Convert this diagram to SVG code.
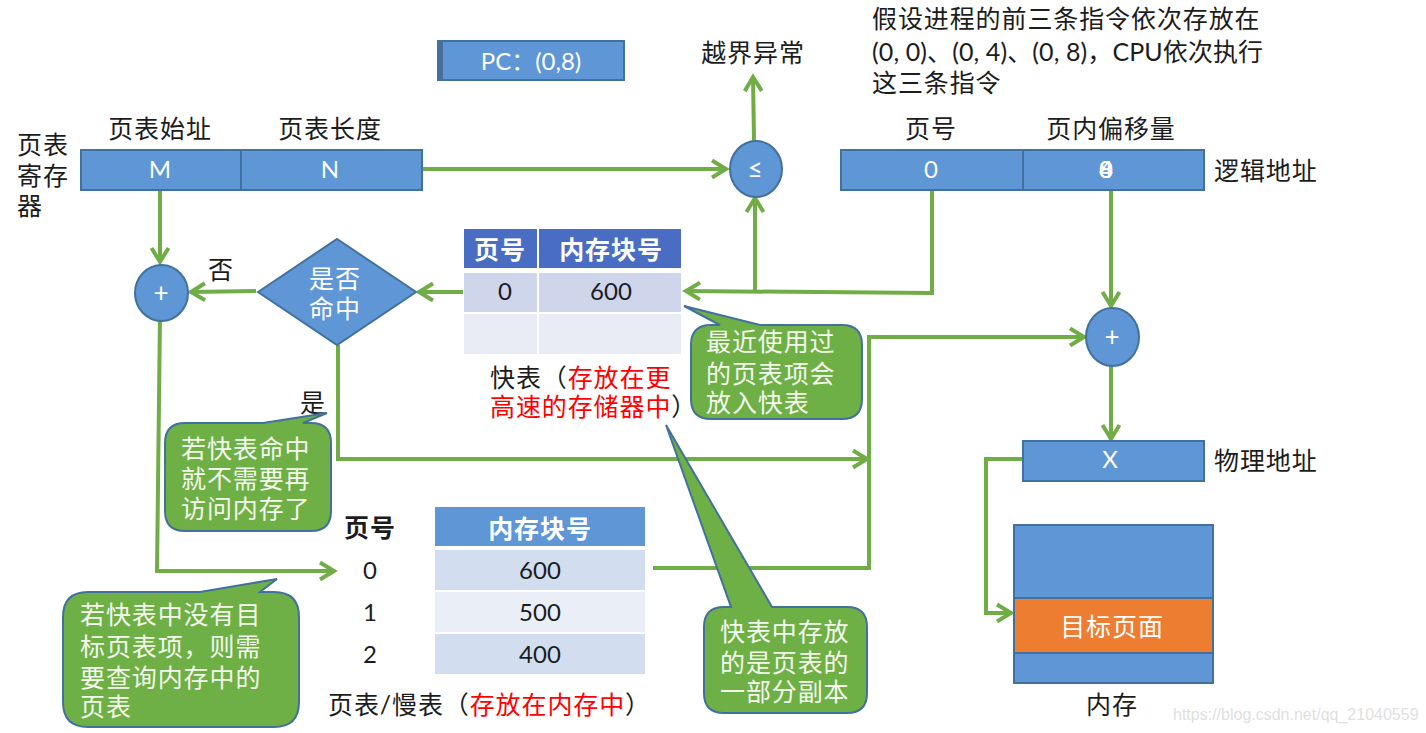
<svg xmlns="http://www.w3.org/2000/svg" width="1426" height="733" viewBox="0 0 1426 733">
<style>
text{font-family:"Lato","Noto Sans CJK SC",sans-serif;font-size:25px;fill:#1c1c1c;letter-spacing:.9px}
.m{text-anchor:middle}
.w{fill:#fff}
.n{font-size:24px;letter-spacing:0}
.b{font-weight:700}
.r{fill:#f00}
.bx{fill:#5f96d6;stroke:#41719c;stroke-width:2}
.dv{stroke:#41719c;stroke-width:2;fill:none}
.cb{fill:#6eb045;stroke:#41719c;stroke-width:2}
.ct{fill:#f4f9ee}
.op{font-size:26px;letter-spacing:0}
.c{fill:none;stroke:#70ad47;stroke-width:4}
.a{marker-end:url(#ah)}
</style>
<defs>
<marker id="ah" markerUnits="userSpaceOnUse" markerWidth="24" markerHeight="24" refX="18" refY="12" orient="auto">
<path d="M3 3.500L17 12L3 20.500" fill="none" stroke="#70ad47" stroke-width="4"/>
</marker>
</defs>
<rect width="1426" height="733" fill="#fff"/>
<g id="connectors">
<path class="c a" d="M422 169H727"/>
<path class="c a" d="M754 141L753 76"/>
<path class="c a" d="M160 190V263"/>
<path class="c a" d="M256 291L190 292"/>
<path class="c a" d="M463 292H418"/>
<path class="c a" d="M932 190V293L685 291"/>
<path class="c a" d="M755 291V197"/>
<path class="c a" d="M1111 190V307"/>
<path class="c a" d="M1111 365V440"/>
<path class="c a" d="M338 345V459H868"/>
<path class="c a" d="M653 568H869V337H1085"/>
<path class="c a" d="M1022 459H986V613H1012"/>
<path class="c a" d="M160 315L157 571H335"/>
</g>
<g id="register">
<rect class="bx" x="81" y="150" width="341" height="40"/>
<path class="dv" d="M241 150V190"/>
<text class="m w n" x="160" y="178">M</text>
<text class="m w n" x="330" y="178">N</text>
</g>
<g id="register-labels">
<text class="m" x="160" y="138">页表始址</text>
<text class="m" x="330" y="138">页表长度</text>
<text x="17" y="154">页表</text>
<text x="17" y="185">寄存</text>
<text x="17" y="215">器</text>
</g>
<g id="pc">
<rect class="bx" x="438" y="41" width="186" height="39"/>
<rect x="438" y="41" width="5" height="39" fill="#41719c"/>
<text class="m w n" x="531" y="70">PC：(0,8)</text>
</g>
<g id="overflow"><text class="m" x="753" y="62">越界异常</text></g>
<g id="note-top">
<text x="872" y="28">假设进程的前三条指令依次存放在</text>
<text x="872" y="61" style="letter-spacing:.1px">(0, 0)、(0, 4)、(0, 8)，CPU依次执行</text>
<text x="872" y="92">这三条指令</text>
</g>
<g id="compare">
<ellipse class="bx" cx="756" cy="169" rx="26" ry="28"/>
<text class="m w op" x="755" y="178">≤</text>
</g>
<g id="logical">
<rect class="bx" x="841" y="150" width="363" height="40"/>
<path class="dv" d="M1023 150V190"/>
<text class="m w n" x="931" y="178">0</text>
<text class="m w n" x="1106" y="178">0</text>
<text class="m w n" x="1106" y="178">4</text>
<text class="m w n" x="1106" y="178">8</text>
<text class="m" x="931" y="138">页号</text>
<text class="m" x="1111" y="138">页内偏移量</text>
<text x="1214" y="180">逻辑地址</text>
</g>
<g id="adder-left">
<ellipse class="bx" cx="161.500" cy="293" rx="26.500" ry="28"/>
<text class="m w op" x="161" y="302">+</text>
</g>
<g id="hit">
<path class="bx" d="M258 292L337 239L416 292L337 345Z"/>
<text class="m w" x="335" y="288">是否</text>
<text class="m w" x="335" y="318">命中</text>
</g>
<text id="no" class="m" x="221" y="279">否</text>
<text id="yes" class="m" x="313" y="412">是</text>
<g id="tlb">
<rect x="464" y="229" width="73" height="39" fill="#4a6dc4"/>
<rect x="539" y="229" width="142" height="39" fill="#4a6dc4"/>
<rect x="464" y="273" width="73" height="39" fill="#cfd5ea"/>
<rect x="539" y="273" width="142" height="39" fill="#cfd5ea"/>
<rect x="464" y="314" width="73" height="40" fill="#e9ebf5"/>
<rect x="539" y="314" width="142" height="40" fill="#e9ebf5"/>
<text class="m w b" x="500" y="259">页号</text>
<text class="m w b" x="611" y="259">内存块号</text>
<text class="m n" x="505" y="300">0</text>
<text class="m n" x="611" y="300">600</text>
</g>
<g id="tlb-caption">
<text x="490" y="387">快表（<tspan class="r">存放在更</tspan></text>
<text x="490" y="416"><tspan class="r">高速的存储器中</tspan>）</text>
</g>
<g id="adder-right">
<ellipse class="bx" cx="1112.500" cy="337" rx="26.500" ry="29"/>
<text class="m w op" x="1112" y="346">+</text>
</g>
<g id="physical">
<rect class="bx" x="1023" y="441" width="181" height="40"/>
<text class="m w n" x="1110" y="468">X</text>
<text x="1214" y="470">物理地址</text>
</g>
<g id="memory">
<rect class="bx" x="1014" y="525" width="199" height="158"/>
<rect x="1014" y="598" width="199" height="55" fill="#ed7d31" stroke="#41719c" stroke-width="2"/>
<text class="m w" x="1112" y="636">目标页面</text>
<text class="m" x="1112" y="714">内存</text>
</g>
<g id="page-table">
<rect x="435" y="507" width="210" height="39" fill="#5f96d6"/>
<rect x="435" y="550" width="210" height="40" fill="#d2deef"/>
<rect x="435" y="592" width="210" height="40" fill="#eaeff7"/>
<rect x="435" y="634" width="210" height="40" fill="#d2deef"/>
<text class="m b" x="370" y="537">页号</text>
<text class="m w b" x="540" y="538">内存块号</text>
<text class="m n" x="370" y="579">0</text>
<text class="m n" x="370" y="621">1</text>
<text class="m n" x="370" y="663">2</text>
<text class="m n" x="540" y="579">600</text>
<text class="m n" x="540" y="621">500</text>
<text class="m n" x="540" y="663">400</text>
<text x="328" y="714">页表/慢表（<tspan class="r">存放在内存中</tspan>）</text>
</g>
<g id="callout-recent">
<path class="cb" d="M684 306L760 325H842Q862 325 862 345V399Q862 419 842 419H711Q691 419 691 399V345Q691 325 711 325H720Z"/>
<text class="ct" x="706" y="351">最近使用过</text>
<text class="ct" x="706" y="383">的页表项会</text>
<text class="ct" x="706" y="412">放入快表</text>
</g>
<g id="callout-hit">
<path class="cb" d="M327 413L303 423H311Q331 423 331 443V511Q331 531 311 531H185Q165 531 165 511V443Q165 423 185 423H263Z"/>
<text class="ct" x="181" y="458">若快表命中</text>
<text class="ct" x="181" y="488">就不需要再</text>
<text class="ct" x="181" y="518">访问内存了</text>
</g>
<g id="callout-miss">
<path class="cb" d="M277 579L260 592H274Q299 592 299 617V702Q299 727 274 727H88Q63 727 63 702V617Q63 592 88 592H200Z"/>
<text class="ct" x="80" y="624">若快表中没有目</text>
<text class="ct" x="80" y="656">标页表项，则需</text>
<text class="ct" x="80" y="687">要查询内存中的</text>
<text class="ct" x="80" y="716">页表</text>
</g>
<g id="callout-copy">
<path class="cb" d="M666 425L772 607H847Q867 607 867 627V693Q867 713 847 713H724Q704 713 704 693V627Q704 607 724 607H731Z"/>
<text class="ct" x="720" y="641">快表中存放</text>
<text class="ct" x="720" y="672">的是页表的</text>
<text class="ct" x="720" y="701">一部分副本</text>
</g>
<text id="watermark" x="1173" y="720" style="font-family:'Liberation Sans',sans-serif;font-size:16px;letter-spacing:0;fill:#dfdfdf">https://blog.csdn.net/qq_21040559</text>
</svg>
